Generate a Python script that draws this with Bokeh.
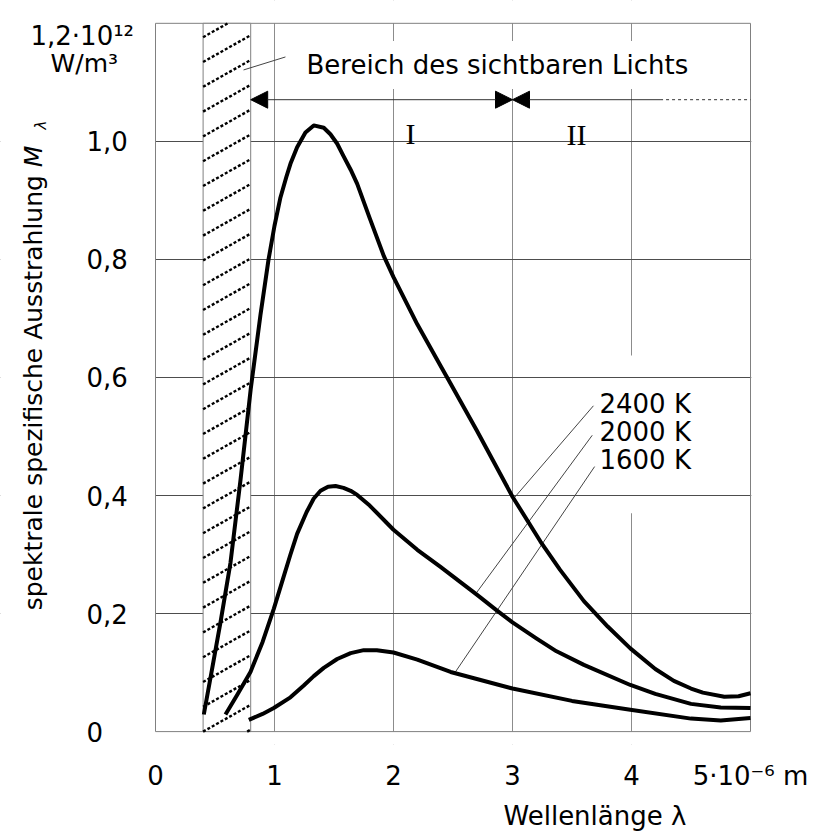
import math
from bokeh.plotting import figure
from bokeh.models import (Range1d, FixedTicker, Label, Arrow, NormalHead, BoxAnnotation, Title)
from bokeh.embed import file_html
from bokeh.resources import INLINE

# ---------------- data ----------------
x_ticks = [0, 1, 2, 3, 4, 5]
x_tick_labels = ["0", "1", "2", "3", "4", "5·10⁻⁶ m"]
y_ticks = [0, 0.2, 0.4, 0.6, 0.8, 1.0]
y_tick_labels = ["0", "0,2", "0,4", "0,6", "0,8", "1,0"]
y_top_label = "1,2·10¹²"
y_unit_label = "W/m³"

wl_2400 = [0.406, 0.47, 0.546, 0.63, 0.714, 0.80, 0.882, 0.95, 1.0, 1.05, 1.1, 1.134, 1.19,
           1.26, 1.33, 1.414, 1.47, 1.527, 1.58, 1.64, 1.695, 1.8, 1.92, 2.0, 2.2, 2.395,
           2.465, 2.7, 3.0, 3.235, 3.4, 3.6, 3.8, 3.99, 4.2, 4.356, 4.5, 4.6, 4.78, 4.9, 5.0]
m_2400 = [0.029, 0.10, 0.185, 0.286, 0.426, 0.58, 0.706, 0.80, 0.857, 0.905, 0.94, 0.962,
          0.99, 1.015, 1.027, 1.023, 1.012, 0.996, 0.975, 0.952, 0.928, 0.87, 0.805, 0.77,
          0.69, 0.62, 0.595, 0.51, 0.398, 0.322, 0.274, 0.221, 0.178, 0.141, 0.106, 0.086,
          0.073, 0.066, 0.059, 0.060, 0.065]

wl_2000 = [0.588, 0.686, 0.798, 0.9, 0.994, 1.07, 1.134, 1.19, 1.27, 1.33, 1.387, 1.45,
           1.513, 1.58, 1.64, 1.695, 1.8, 2.0, 2.2, 2.395, 2.48, 2.7, 2.87, 3.0, 3.2, 3.37,
           3.6, 3.99, 4.2, 4.5, 4.75, 5.0]
m_2000 = [0.029, 0.062, 0.101, 0.152, 0.208, 0.258, 0.30, 0.335, 0.372, 0.395, 0.408, 0.415,
          0.416, 0.413, 0.408, 0.401, 0.383, 0.342, 0.308, 0.279, 0.266, 0.232, 0.205, 0.185,
          0.158, 0.136, 0.113, 0.079, 0.064, 0.047, 0.041, 0.040]

wl_1600 = [0.784, 0.9, 0.994, 1.134, 1.246, 1.33, 1.414, 1.527, 1.64, 1.75, 1.86, 2.0, 2.2,
           2.48, 3.0, 3.5, 3.99, 4.5, 4.75, 5.0]
m_1600 = [0.020, 0.030, 0.040, 0.058, 0.078, 0.094, 0.108, 0.123, 0.133, 0.138, 0.138,
          0.134, 0.122, 0.101, 0.073, 0.052, 0.037, 0.022, 0.019, 0.023]

curve_labels = ["2400 K", "2000 K", "1600 K"]
visible_band = [0.4, 0.8]   # Bereich des sichtbaren Lichts (10^-6 m)
region_split = 3.0          # Grenze zwischen Bereich I und II
x_lim = [0, 5]
y_lim = [0, 1.2]

# leader lines (label -> curve)
lead_x0 = [3.68, 3.67, 3.69, 1.092]
lead_y0 = [0.552, 0.502, 0.449, 1.143]
lead_x1 = [3.01, 2.70, 2.52, 0.74]
lead_y1 = [0.395, 0.236, 0.101, 1.121]

# ---------------- figure ----------------
# The frame also covers the margin left of, above and just below the plot box,
# so that the texts there can be in-frame annotations; the plot box is x 0..5, y 0..1.2.
FONT = "DejaVu Sans"
GRAY = "#808080"
PX_X = 119.0   # pixels per 10^-6 m
PX_Y = 595.0   # pixels per 10^12 W/m^3
p = figure(width=827, height=836, title=None,
           x_range=Range1d(-155 / PX_X, 5 + 1 / PX_X),
           y_range=Range1d(-13 / PX_Y, 1.2 + 23 / PX_Y),
           y_axis_location=None,
           output_backend="svg", toolbar_location=None,
           min_border_left=0, min_border_right=76, min_border_top=0, min_border_bottom=86)
p.background_fill_color = "white"
p.border_fill_color = "white"
p.outline_line_color = None

# x axis (its line is the bottom of the plot box, drawn below)
xa = p.xaxis[0]
xa.axis_line_color = None
xa.major_tick_line_color = None
xa.minor_tick_line_color = None
xa.major_label_text_font = FONT
xa.major_label_text_font_size = "26px"
xa.major_label_text_color = "black"
xa.ticker = FixedTicker(ticks=x_ticks)
xa.major_label_overrides = dict(zip(x_ticks, x_tick_labels))
xa.major_label_standoff = 10

# x axis title
p.add_layout(Title(text="Wellenlänge λ", align="left", offset=503, text_font=FONT,
                   text_font_size="26px", text_font_style="normal", text_color="black",
                   standoff=11, vertical_align="bottom"), "below")

# grids
xg = p.xgrid[0]
yg = p.ygrid[0]
xg.ticker = FixedTicker(ticks=[1, 2, 3, 4])
xg.grid_line_color = "#8c8c8c"
xg.grid_line_width = 1
yg.ticker = FixedTicker(ticks=[0.2, 0.4, 0.6, 0.8, 1])
yg.grid_line_color = "#4d4d4d"
yg.grid_line_width = 1

def cover(**kw):
    return BoxAnnotation(fill_color="white", fill_alpha=1, line_color=None, level="underlay", **kw)

# white gap in the vertical grid behind the curve labels
gap_box = cover(left=3.8, right=4.2, bottom=0.37, top=0.637)
# keep the grid inside the plot box
p.center = [xg, gap_box, yg, cover(right=x_lim[0]), cover(bottom=y_lim[1]), cover(top=y_lim[0])]

# plot box
p.quad(left=[x_lim[0]], right=[x_lim[1]], bottom=[y_lim[0]], top=[y_lim[1]],
       fill_color=None, line_color=GRAY, line_width=1)

# visible light band (white, gray border, dotted hatching)
p.quad(left=[visible_band[0]], right=[visible_band[1]], bottom=[y_lim[0]], top=[y_lim[1]],
       fill_color="white", line_color=GRAY, line_width=1)
rise = 27 / PX_Y
gap = 25 / PX_Y
bw = visible_band[1] - visible_band[0]
hx0, hy0, hx1, hy1 = [], [], [], []
k = -3
while True:
    y0 = k * gap
    if y0 > y_lim[1]:
        break
    y1 = y0 + rise
    xa0, ya0, xb0, yb0 = visible_band[0], y0, visible_band[1], y1
    if ya0 < 0:
        xa0 = visible_band[0] + (0 - y0) / rise * bw
        ya0 = 0
    if yb0 > y_lim[1]:
        xb0 = visible_band[0] + (y_lim[1] - y0) / rise * bw
        yb0 = y_lim[1]
    if yb0 > ya0:
        hx0.append(xa0); hy0.append(ya0); hx1.append(xb0); hy1.append(yb0)
    k += 1
p.segment(x0=hx0, y0=hy0, x1=hx1, y1=hy1, line_color="black", line_width=2.4,
          line_dash="3 2")

# leader lines
p.segment(x0=lead_x0, y0=lead_y0, x1=lead_x1, y1=lead_y1, line_color="#444444", line_width=1)

# curves
for wl, m in ((wl_2400, m_2400), (wl_2000, m_2000), (wl_1600, m_1600)):
    p.line(wl, m, line_color="black", line_width=4, line_join="round")

# region arrows I / II
arrow_y = 1.0706
def head():
    return NormalHead(size=17, fill_color="black", fill_alpha=1.0, line_color="black",
                      line_width=1)
p.add_layout(Arrow(x_start=visible_band[1], y_start=arrow_y, x_end=region_split, y_end=arrow_y,
                   start=head(), end=head(), line_color="#333333", line_width=1))
p.add_layout(Arrow(x_start=region_split, y_start=arrow_y, x_end=4.24, y_end=arrow_y,
                   start=head(), end=None, line_color="#333333", line_width=1))
p.segment(x0=[4.24], y0=[arrow_y], x1=[5], y1=[arrow_y], line_color="#333333",
          line_width=1, line_dash="3 3")

def sx(px):
    return (px - 155) / PX_X

def sy(py):
    return (737 - py) / PX_Y

def lab(text, x, y, size="26px", align="left", baseline="alphabetic", font=FONT,
        style="normal", angle=0.0, **kw):
    l = Label(x=x, y=y, text=text, text_font=font, text_font_size=size, text_align=align,
              text_baseline=baseline, text_font_style=style, angle=angle, text_color="black",
              **kw)
    p.add_layout(l)
    return l

# y tick labels (left aligned, placed by the y scale)
for t, s in zip(y_ticks, y_tick_labels):
    lab(s, sx(86), t, baseline="middle")

lab("I", 2.143, 1.0134, size="30px", align="center", font="Liberation Serif")
lab("II", 3.538, 1.0118, size="30px", align="center", font="Liberation Serif")

lab("Bereich des sichtbaren Lichts", 1.193, 1.1294,
    background_fill_color="white", background_fill_alpha=1.0, padding=9)

for t, yy in zip(curve_labels, [0.555, 0.5076, 0.4605]):
    lab(t, 3.731, yy, baseline="middle")

# unit of the y axis
lab(y_top_label, sx(30), sy(36), size="26px")
lab(y_unit_label, sx(50), sy(64), size="25px")

# y axis title
lab("spektrale spezifische Ausstrahlung", sx(33), sy(176), size="25px", align="right",
    angle=math.pi / 2)
lab("M", sx(33), sy(168), size="25px", style="italic", angle=math.pi / 2)
lab("λ", sx(40), sy(130), size="15px", style="italic", angle=math.pi / 2)

open("out.html", "w").write(file_html(p, INLINE))
